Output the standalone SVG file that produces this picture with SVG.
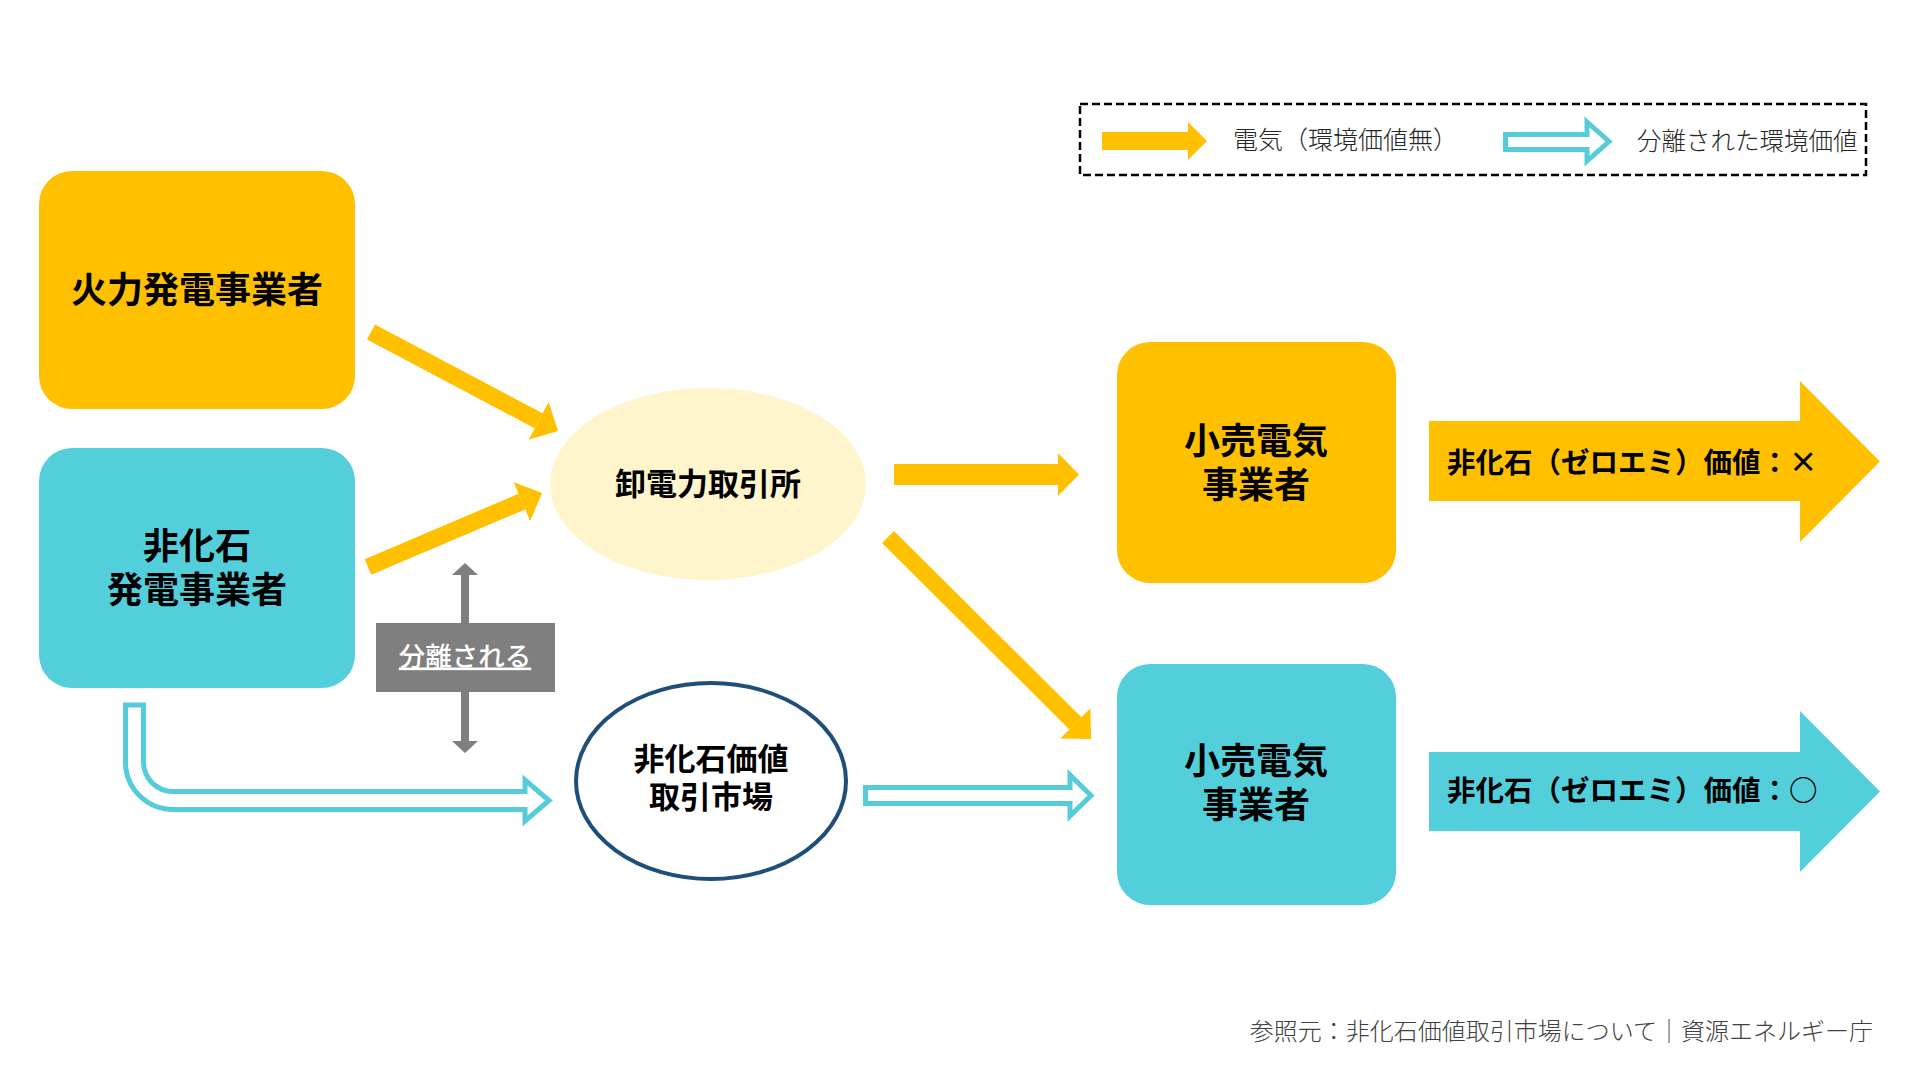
<svg xmlns="http://www.w3.org/2000/svg" width="1920" height="1080" viewBox="0 0 1920 1080">
<defs>
<style>
text{font-family:"Noto Sans CJK JP","Noto Sans",sans-serif;dominant-baseline:central}
.b{font-weight:700;fill:#000}
.lg{font-weight:300;fill:#262626}
.y{fill:#FFC000}
.c{fill:#53CFDC}
.ol{fill:#fff;stroke:#56CCDA;stroke-width:5;stroke-linejoin:miter}
.yl{stroke:#FFC000;stroke-width:17;fill:none;marker-end:url(#yh)}
.g{fill:#7F7F7F}
</style>
<marker id="yh" viewBox="0 0 13 25" markerWidth="1.3" markerHeight="2.5" refX="0" refY="12.5" orient="auto" markerUnits="strokeWidth">
<path d="M0,0 L13,12.5 L0,25 Z" fill="#FFC000"/>
</marker>
</defs>
<rect width="1920" height="1080" fill="#fff"/>

<g id="legend">
<rect x="1080" y="104" width="786" height="71" fill="none" stroke="#000" stroke-width="2.5" stroke-dasharray="8 4"/>
<polygon class="y" points="1102,132 1188,132 1188,122 1207,141 1188,160 1188,150 1102,150"/>
<text class="lg" x="1233" y="138" font-size="25">電気（環境価値無）</text>
<path class="ol" d="M1505.5,134.5 L1587,134.5 L1587,122 L1609,141.5 L1587,161 L1587,149.5 L1505.5,149.5 Z"/>
<text class="lg" x="1637" y="139" font-size="24.5">分離された環境価値</text>
</g>

<g id="connectors">
<line class="yl" x1="371" y1="332" x2="538.6" y2="420.7"/>
<line class="yl" x1="368" y1="567" x2="521.8" y2="501.6"/>
<polygon class="y" points="894,464 1058,464 1058,453 1079,474.5 1058,496 1058,485 894,485"/>
<line class="yl" x1="888" y1="537" x2="1075.4" y2="723.4"/>
<path class="ol" d="M125.5,705 L125.5,762 A47.5,47.5 0 0 0 173,809.5 L525,809.5 L525,821 L549,800.5 L525,780 L525,791.5 L173,791.5 A29.5,29.5 0 0 1 143.5,762 L143.5,705 Z"/>
<path class="ol" d="M865.5,787.5 L1070,787.5 L1070,775 L1091,795.5 L1070,816 L1070,803.5 L865.5,803.5 Z"/>
<polygon class="g" points="461,623 461,575 452,575 465,563 478,575 469,575 469,623"/>
<polygon class="g" points="461,692 461,741 452,741 465,753 478,741 469,741 469,692"/>
</g>

<g id="thermal">
<rect class="y" x="39" y="171" width="316" height="238" rx="33"/>
<text class="b" x="197" y="287" font-size="36" text-anchor="middle">火力発電事業者</text>
</g>

<g id="nonfossil-gen">
<rect class="c" x="39" y="448" width="316" height="240" rx="33"/>
<text class="b" font-size="36" text-anchor="middle"><tspan x="197" y="543">非化石</tspan><tspan x="197" y="587">発電事業者</tspan></text>
</g>

<g id="separated">
<rect class="g" x="376" y="623" width="179" height="69"/>
<text x="465" y="654" font-size="26.5" font-weight="500" fill="#fff" text-anchor="middle" text-decoration="underline">分離される</text>
</g>

<g id="wholesale">
<ellipse cx="708" cy="484" rx="158" ry="96" fill="#FFF5CC"/>
<text class="b" x="708" y="481" font-size="31" text-anchor="middle">卸電力取引所</text>
</g>

<g id="nf-market">
<ellipse cx="711" cy="781" rx="135" ry="98" fill="#fff" stroke="#1F4E79" stroke-width="4"/>
<text class="b" font-size="31" text-anchor="middle"><tspan x="711" y="756">非化石価値</tspan><tspan x="711" y="794">取引市場</tspan></text>
</g>

<g id="retail-1">
<rect class="y" x="1117" y="342" width="279" height="241" rx="33"/>
<text class="b" font-size="36" text-anchor="middle"><tspan x="1256" y="438">小売電気</tspan><tspan x="1256" y="482">事業者</tspan></text>
</g>

<g id="retail-2">
<rect class="c" x="1117" y="664" width="279" height="241" rx="33"/>
<text class="b" font-size="36" text-anchor="middle"><tspan x="1256" y="758">小売電気</tspan><tspan x="1256" y="802">事業者</tspan></text>
</g>

<g id="value-x">
<polygon class="y" points="1429,421 1800,421 1800,381 1880,461.5 1800,542 1800,501 1429,501"/>
<text class="b" x="1447" y="460" font-size="28.5">非化石（ゼロエミ）価値：×</text>
</g>

<g id="value-o">
<polygon class="c" points="1429,752 1800,752 1800,711 1880,791.5 1800,872 1800,831 1429,831"/>
<text class="b" x="1447" y="788" font-size="28.5">非化石（ゼロエミ）価値：○</text>
</g>

<text x="1873" y="1029" font-size="24" fill="#404040" font-weight="300" text-anchor="end">参照元：非化石価値取引市場について｜資源エネルギー庁</text>
</svg>
